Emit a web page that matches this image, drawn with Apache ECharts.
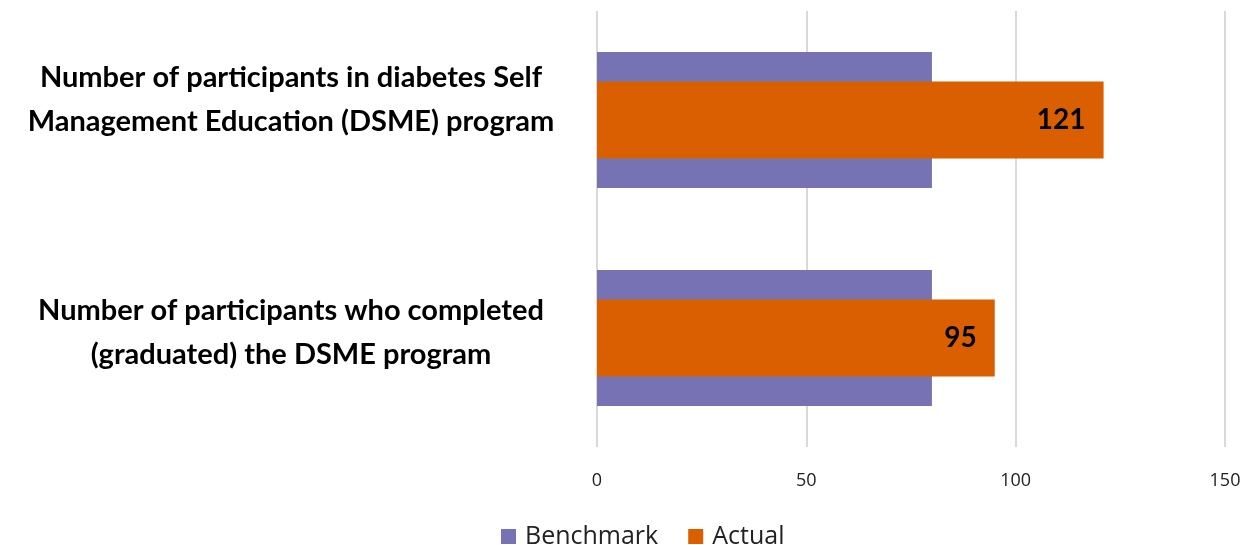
<!DOCTYPE html>
<html>
<head>
<meta charset="utf-8">
<script src="https://cdn.jsdelivr.net/npm/echarts@6/dist/echarts.min.js"></script>
<style>
  html, body { margin: 0; padding: 0; background: #fff; }
  #chart { width: 1252px; height: 545px; }
</style>
</head>
<body>
<div id="chart"></div>
<script>
// DSME program participation against benchmark
const categories = [
  'Number of participants in diabetes Self\nManagement Education (DSME) program',
  'Number of participants who completed\n(graduated) the DSME program'
];
const benchmarkValues = [80, 80];
const actualValues = [121, 95];
const xTicks = [0, 50, 100, 150];

const chart = echarts.init(document.getElementById('chart'));

// Category labels sit a little above their band; an invisible trailing line lifts each block
const labelLift = ['s0', 's1'];

chart.setOption({
  animation: false,
  backgroundColor: '#ffffff',
  textStyle: { fontFamily: 'Lato, "Open Sans", sans-serif' },
  legend: {
    data: ['Benchmark', 'Actual'],
    top: 519,
    left: 496,
    itemWidth: 15,
    itemHeight: 15,
    itemGap: 30,
    icon: 'rect',
    textStyle: { fontSize: 25, color: '#222', padding: [0, 0, 0, 4], fontFamily: '"Open Sans", sans-serif' }
  },
  grid: { left: 597, right: 27, top: 11, bottom: 98, containLabel: false },
  xAxis: {
    type: 'value',
    min: xTicks[0],
    max: xTicks[xTicks.length - 1],
    interval: 50,
    axisLine: { show: false },
    axisTick: { show: false },
    axisLabel: { fontSize: 18, color: '#222', margin: 25, fontFamily: '"Open Sans", sans-serif' },
    splitLine: { lineStyle: { color: '#d9d9d9', width: 2 } }
  },
  yAxis: [
    {
      type: 'category',
      data: categories,
      inverse: true,
      axisLine: { show: false },
      axisTick: { show: false },
      axisLabel: {
        align: 'center',
        margin: 306,
        formatter: (value, index) =>
          value.split('\n').map(l => '{t|' + l + '}').join('\n') + '\n{' + labelLift[index] + '| }',
        rich: {
          t: { fontSize: 29, fontWeight: 'bold', color: '#000', lineHeight: 44, fontFamily: 'Lato, sans-serif' },
          s0: { fontSize: 10, lineHeight: 40 },
          s1: { fontSize: 10, lineHeight: 11 }
        }
      }
    },
    {
      type: 'category',
      data: categories,
      inverse: true,
      show: false
    }
  ],
  series: [
    {
      name: 'Benchmark',
      type: 'bar',
      yAxisIndex: 0,
      data: benchmarkValues,
      barWidth: 136,
      itemStyle: { color: '#7772b4' }
    },
    {
      name: 'Actual',
      type: 'bar',
      yAxisIndex: 1,
      data: actualValues,
      barWidth: 77,
      itemStyle: { color: '#da5f00' },
      label: {
        show: true,
        position: 'insideRight',
        distance: 18,
        fontSize: 28,
        fontWeight: 'bold',
        color: '#000',
        fontFamily: 'Lato, sans-serif'
      }
    }
  ]
});
</script>
</body>
</html>
